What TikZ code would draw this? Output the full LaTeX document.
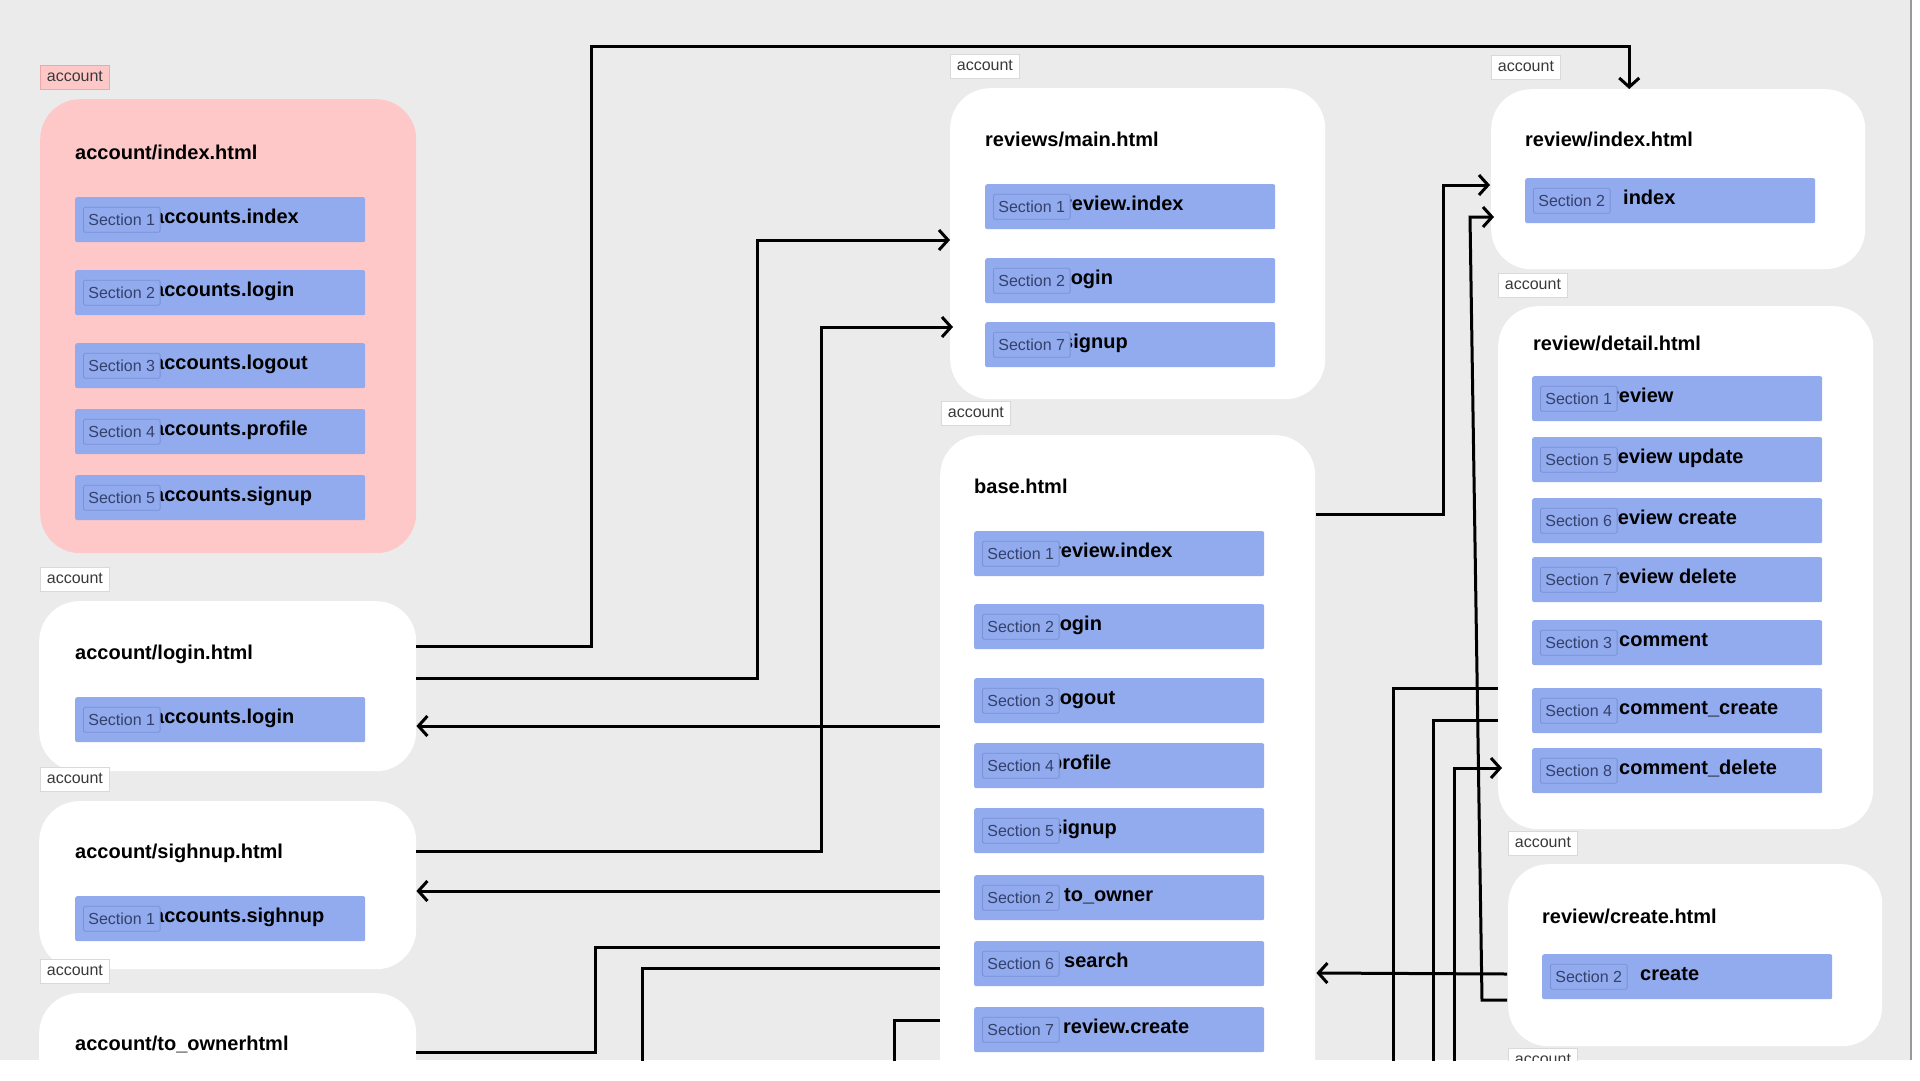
\documentclass[tikz,border=0pt]{standalone}
\usepackage{fontspec}
\setmainfont{Liberation Sans}
\usetikzlibrary{arrows.meta}
\usetikzlibrary{calc}
\usepackage{xcolor}
\definecolor{canvas}{HTML}{ECEBEC}
\definecolor{pinkfill}{HTML}{FFC8C8}
\definecolor{pinkline}{HTML}{EDA9A9}
\definecolor{barblue}{HTML}{91ABEE}
\definecolor{secline}{HTML}{7A92D4}
\definecolor{sectxt}{HTML}{34416A}
\definecolor{tagline}{HTML}{D9D9D9}
\definecolor{tagtxt}{HTML}{3A3A3A}
\definecolor{frameline}{HTML}{9A9A9A}
\newcommand{\tagfont}{\fontsize{16}{19}\selectfont}
\newcommand{\headfont}{\fontsize{20}{24}\selectfont\bfseries}

\tikzset{
  htmlbox/.style={rectangle, rounded corners=40pt, fill=white, anchor=north west, inner sep=0pt},
  filetag/.style={rectangle, draw=tagline, line width=0.8pt, fill=white, anchor=north west,
    minimum height=24pt, inner sep=0pt, inner xsep=6.5pt, font=\tagfont, text=tagtxt,
    text height=9pt, text depth=0pt},
  filetitle/.style={anchor=west, inner sep=0pt, font=\headfont, text=black, text height=14.5pt, text depth=0pt},
  secbar/.style={rectangle, rounded corners=2pt, fill=barblue, anchor=north west,
    minimum width=290pt, minimum height=45pt, inner sep=0pt},
  barlabel/.style={anchor=west, inner sep=0pt, font=\headfont, text=black, text height=12pt, text depth=5pt},
  sectag/.style={rectangle, rounded corners=1.5pt, draw=secline, line width=0.8pt, fill=barblue, anchor=west,
    minimum height=25pt, inner xsep=5pt, inner ysep=0pt, font=\tagfont, text=sectxt,
    text height=11.5pt, text depth=0pt},
  wire/.style={draw=black, line width=3pt},
  wirearrow/.style={wire, -{Straight Barb[length=9pt,width=20pt]}}
}

% bar with section tag: name, x, top, section, label, label offset
\newcommand{\secrow}[6]{%
  \node[secbar] (#1) at (#2,#3) {};
  \node[barlabel] (#1l) at ($(#1.west)+(#6,0)$) {#5};
  \node[sectag] (#1s) at ($(#1.west)+(8,0)$) {Section #4};
}

\begin{document}
\begin{tikzpicture}[x=1pt,y=-1pt]
  \useasboundingbox (0,0) rectangle (1920,1080);
  \fill[white] (0,0) rectangle (1920,1080);

  \begin{scope}
  \clip (0,0) rectangle (1910,1060);
  \fill[canvas] (0,0) rectangle (1910,1060);

  % left column
  \node[filetag, fill=pinkfill, draw=pinkline] (idxtag) at (40,65) {account};
  \node[htmlbox, fill=pinkfill, minimum width=376pt, minimum height=454pt] (idx) at (40,99) {};
  \node[filetitle] (idxt) at (75,152) {account/index.html};
  \secrow{idx1}{75}{197}{1}{accounts.index}{78}
  \secrow{idx2}{75}{270}{2}{accounts.login}{78}
  \secrow{idx3}{75}{343}{3}{accounts.logout}{78}
  \secrow{idx4}{75}{409}{4}{accounts.profile}{78}
  \secrow{idx5}{75}{475}{5}{accounts.signup}{78}

  \node[filetag] (logintag) at (40,567) {account};
  \node[htmlbox, minimum width=377pt, minimum height=170pt] (login) at (39,601) {};
  \node[filetitle] (logint) at (75,652) {account/login.html};
  \secrow{login1}{75}{697}{1}{accounts.login}{78}

  \node[filetag] (signuptag) at (40,767) {account};
  \node[htmlbox, minimum width=377pt, minimum height=168pt] (signup) at (39,801) {};
  \node[filetitle] (signupt) at (75,851) {account/sighnup.html};
  \secrow{signup1}{75}{896}{1}{accounts.sighnup}{78}

  \node[filetag] (ownertag) at (40,959) {account};
  \node[htmlbox, minimum width=377pt, minimum height=170pt] (toowner) at (39,993) {};
  \node[filetitle] (toownert) at (75,1043) {account/to\_ownerhtml};

  % middle column
  \node[filetag] (rmaintag) at (950,54) {account};
  \node[htmlbox, minimum width=375pt, minimum height=311pt] (rmain) at (950,88) {};
  \node[filetitle] (rmaint) at (985,139) {reviews/main.html};
  \secrow{rmain1}{985}{184}{1}{review.index}{79}
  \secrow{rmain2}{985}{258}{2}{login}{80}
  \secrow{rmain3}{985}{322}{7}{signup}{77}

  \node[filetag] (basetag) at (941,401) {account};
  \node[htmlbox, minimum width=375pt, minimum height=700pt] (base) at (940,435) {};
  \node[filetitle] (baset) at (974,486) {base.html};
  \secrow{base1}{974}{531}{1}{review.index}{79}
  \secrow{base2}{974}{604}{2}{login}{80}
  \secrow{base3}{974}{678}{3}{logout}{80}
  \secrow{base4}{974}{743}{4}{profile}{76}
  \secrow{base5}{974}{808}{5}{signup}{77}
  \secrow{base6}{974}{875}{2}{to\_owner}{90}
  \secrow{base7}{974}{941}{6}{search}{90}
  \secrow{base8}{974}{1007}{7}{review.create}{89}

  % right column
  \node[filetag] (rindextag) at (1491,55) {account};
  \node[htmlbox, minimum width=374pt, minimum height=180pt] (rindex) at (1491,89) {};
  \node[filetitle] (rindext) at (1525,139) {review/index.html};
  \secrow{rindex1}{1525}{178}{2}{index}{98}

  \node[filetag] (rdetailtag) at (1498,273) {account};
  \node[htmlbox, minimum width=375pt, minimum height=523pt] (rdetail) at (1498,306) {};
  \node[filetitle] (rdetailt) at (1533,343) {review/detail.html};
  \secrow{rdetail1}{1532}{376}{1}{review}{79}
  \secrow{rdetail2}{1532}{437}{5}{review update}{78}
  \secrow{rdetail3}{1532}{498}{6}{review create}{78}
  \secrow{rdetail4}{1532}{557}{7}{review delete}{79}
  \secrow{rdetail5}{1532}{620}{3}{comment}{87}
  \secrow{rdetail6}{1532}{688}{4}{comment\_create}{87}
  \secrow{rdetail7}{1532}{748}{8}{comment\_delete}{87}

  \node[filetag] (rcreatetag) at (1508,831) {account};
  \node[htmlbox, minimum width=374pt, minimum height=182pt] (rcreate) at (1508,864) {};
  \node[filetitle] (rcreatet) at (1542,916) {review/create.html};
  \secrow{rcreate1}{1542}{954}{2}{create}{98}

  \node[filetag] (nexttag) at (1508,1048) {account};

  % connectors
  \draw[wirearrow] ($(login.north east)+(0,45)$) -| (591,46) -| ($(rindex.north)+(-49,0)$);
  \draw[wirearrow] ($(login.north east)+(0,77)$) -| (757,240) -- ($(rmain.north west)+(0,152)$);
  \draw[wirearrow] ($(base.north west)+(0,291)$) -- ($(login.north east)+(0,125)$);
  \draw[wirearrow] ($(signup.north east)+(0,50)$) -| (821,327) -- ($(rmain.north west)+(3,239)$);
  \draw[wirearrow] ($(base.north west)+(0,456)$) -- ($(signup.north east)+(0,90)$);
  \draw[wire] ($(base.north west)+(0,512)$) -| (595,1052) -- ($(toowner.north east)+(0,59)$);
  \draw[wire] ($(base.north west)+(0,533)$) -| (642,1080);
  \draw[wire] ($(base.north west)+(0,585)$) -| (894,1080);

  \draw[wirearrow] ($(base.north east)+(1,79)$) -| (1443,185) -- ($(rindex.north west)+(-1,96)$);
  \draw[wirearrow] ($(rcreate.north west)+(-1,136)$) -- (1482,1000) -- (1470,217) -- ($(rindex.north west)+(3,128)$);
  \draw[wire] ($(rdetail.north west)+(0,382)$) -| (1393,1080);
  \draw[wire] ($(rdetail.north west)+(0,414)$) -| (1433,1080);
  \draw[wirearrow] (1454,1080) |- ($(rdetail.north west)+(4,462)$);
  \draw[wirearrow] ($(rcreate.north west)+(-1,110)$) -- ($(base.north east)+(1,538)$);
  \end{scope}

  \draw[frameline, line width=1.6pt] (1910.8,0) -- (1910.8,1060);
\end{tikzpicture}
\end{document}
